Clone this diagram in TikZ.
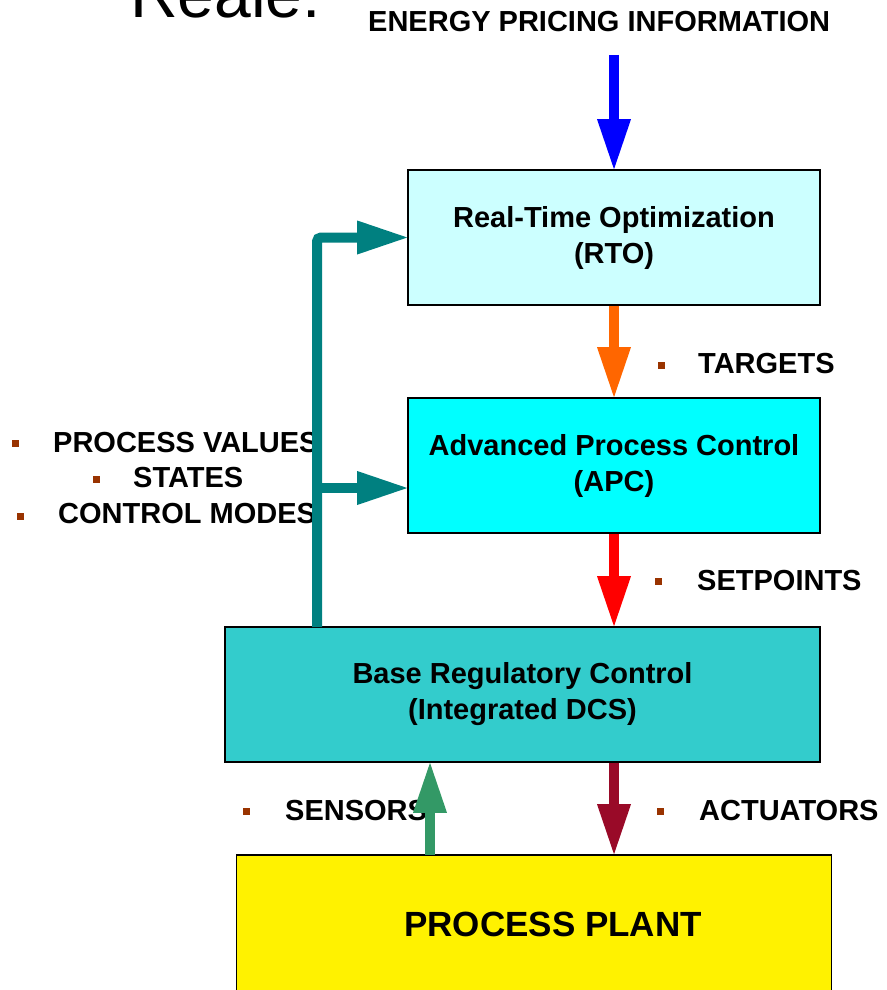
\documentclass[tikz,border=0pt]{standalone}
\usepackage{fontspec}
\setmainfont{Liberation Sans}
\usetikzlibrary{arrows.meta}
\definecolor{rtofill}{HTML}{CCFFFF}
\definecolor{apcfill}{HTML}{00FFFF}
\definecolor{dcsfill}{HTML}{33CCCC}
\definecolor{fbteal}{HTML}{008080}
\definecolor{tgtorange}{HTML}{FF6600}
\definecolor{actred}{HTML}{990A28}
\definecolor{sensgreen}{HTML}{339966}
\definecolor{bulred}{HTML}{993300}

\begin{document}
\begin{tikzpicture}[x=1pt, y=-1pt,
	box/.style={draw, line width=1.6pt, minimum width=412pt, minimum height=135pt, align=center, font=\fontsize{29}{36}\selectfont\bfseries},
	lbl/.style={anchor=base west, inner sep=0pt, font=\fontsize{29}{36}\selectfont\bfseries},
	bul/.style={fill=bulred, minimum size=7pt, inner sep=0pt},
	flow/.style={line width=10pt, -{Triangle[width=34pt,length=50pt,line width=0pt]}},
	fb/.style={flow, fbteal, rounded corners=4pt}]
			\useasboundingbox (0,0) rectangle (886,990);
			\node[anchor=base west, inner sep=0pt, font=\fontsize{66}{70}\selectfont] (reale) at (130,18) {Reale:};
			\node[lbl] (energy) at (368,32) {ENERGY PRICING INFORMATION};
			\node[box, fill=rtofill] (rto) at (614,237.5) {Real-Time Optimization\\(RTO)};
			\node[box, fill=apcfill] (apc) at (614,465.5) {Advanced Process Control\\(APC)};
			\node[box, fill=dcsfill, minimum width=595pt] (dcs) at (522.5,694.5) {Base Regulatory Control\\(Integrated DCS)};
			\node[draw, line width=1.6pt, fill=yellow, minimum width=595pt, minimum height=140pt] (plant) at (534,925) {};
			\node[inner sep=0pt, font=\fontsize{35}{40}\selectfont\bfseries] (plantlbl) at (553,924.5) {PROCESS PLANT};
			
			\node[bul] (b1) at (661,365) {};
			\node[lbl] (targets) at (698,373) {TARGETS};
			\node[bul] (b2) at (658,581) {};
			\node[lbl] (setpoints) at (697,590) {SETPOINTS};
			\node[bul] (b3) at (246,811) {};
			\node[lbl] (sensors) at (285,820) {SENSORS};
			\node[bul] (b4) at (660,811) {};
			\node[lbl] (actuators) at (699,820) {ACTUATORS};
			\node[bul] (b5) at (15,443) {};
			\node[lbl] (pv) at (53,452) {PROCESS VALUES};
			\node[bul] (b6) at (96,479) {};
			\node[lbl] (states) at (133,487) {STATES};
			\node[bul] (b7) at (20,516) {};
			\node[lbl] (modes) at (58,523) {CONTROL MODES};
			
			\coordinate (src) at (614,55);
			\coordinate (sens) at (430,855);
			\coordinate (fbstart) at (317,627);
			\coordinate (fork) at (317,488);
			\draw[flow, blue] (src) -- (rto.north);
			\draw[flow, tgtorange] (rto.south) -- (apc.north);
			\draw[flow, red] (apc.south) -- (apc.south |- dcs.north);
			\draw[flow, actred] (apc.south |- dcs.south) -- (apc.south |- plant.north);
			\draw[flow, sensgreen] (sens) -- (sens |- dcs.south);
			\draw[fb] (fbstart) |- (rto.west);
			\draw[fb] (fork) -- (fork -| apc.west);
		\end{tikzpicture}
\end{document}
